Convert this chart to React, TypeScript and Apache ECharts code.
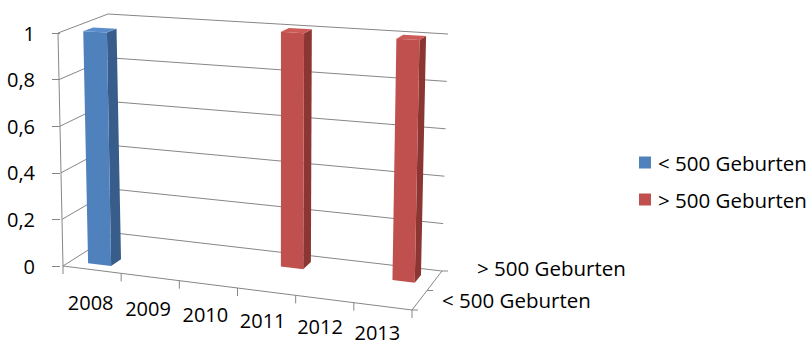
import { useEffect, useRef } from 'react';
import * as echarts from 'echarts';

const categories = ['2008', '2009', '2010', '2011', '2012', '2013'];
const seriesNames = ['< 500 Geburten', '> 500 Geburten'];
const below500 = [1, 0, 0, 0, 0, 0];
const above500 = [0, 0, 0, 1, 0, 1];
const valueTicks = [0, 0.2, 0.4, 0.6, 0.8, 1];

const FONT = '"Open Sans", sans-serif';
const GRID_COLOR = '#868686';
const BLUE = { front: '#4F81BD', top: '#5B8DCB', side: '#385D8A' };
const RED = { front: '#C0504D', top: '#CC5B58', side: '#8C3634' };

type Pt = [number, number];

// Oblique / slightly perspective 3D box projected from the cartesian grid.
function makeProj(api: any) {
  const n = categories.length;
  const o = api.coord([0, 0]);
  const e = api.coord([n, 1]);
  const L = o[0], B = o[1], R = e[0], T = e[1];
  const FBL: Pt = [L + 3, B], FTL: Pt = [L - 2, T];
  const FBR: Pt = [R, B + 44], FTR: Pt = [R + 4, T + 21];
  const BBL: Pt = [L + 55, B - 33], BTL: Pt = [L + 48, T - 19];
  const BBR: Pt = [R + 30, B + 5], BTR: Pt = [R + 36, T + 1];
  const lerp = (a: Pt, b: Pt, k: number): Pt => [a[0] + (b[0] - a[0]) * k, a[1] + (b[1] - a[1]) * k];
  return (u: number, v: number, w: number): Pt => {
    const p = api.coord([u, v]);
    const s = (p[0] - L) / (R - L);
    const t = (B - p[1]) / (B - T);
    const fb = lerp(FBL, FBR, s), ft = lerp(FTL, FTR, s);
    const bb = lerp(BBL, BBR, s), bt = lerp(BTL, BTR, s);
    return lerp(lerp(fb, ft, t), lerp(bb, bt, t), w);
  };
}

const lineEl = (a: Pt, b: Pt, color = GRID_COLOR) => ({
  type: 'line',
  shape: { x1: a[0], y1: a[1], x2: b[0], y2: b[1] },
  style: { stroke: color, lineWidth: 1 },
  silent: true,
});

const textEl = (x: number, y: number, text: string, align: string, size: number) => ({
  type: 'text',
  x,
  y,
  style: { text, fill: '#000', fontFamily: FONT, fontSize: size, align, verticalAlign: 'middle' },
  silent: true,
});

function barRender(k: number, colors: { front: string; top: string; side: string }) {
  return (params: any, api: any) => {
    const i = api.value(0);
    const val = api.value(1);
    if (!val) return null;
    const P = makeProj(api);
    const u0 = i + 0.3, u1 = i + 0.7;
    const w0 = 0.25 + 0.5 * k - 0.1, w1 = w0 + 0.2;
    return {
      type: 'group',
      children: [
        { type: 'polygon', shape: { points: [P(u1, 0, w0), P(u1, 0, w1), P(u1, val, w1), P(u1, val, w0)] }, style: { fill: colors.side } },
        { type: 'polygon', shape: { points: [P(u0, val, w0), P(u1, val, w0), P(u1, val, w1), P(u0, val, w1)] }, style: { fill: colors.top } },
        { type: 'polygon', shape: { points: [P(u0, 0, w0), P(u1, 0, w0), P(u1, val, w0), P(u0, val, w0)] }, style: { fill: colors.front } },
      ],
    };
  };
}

export default function App() {
  const ref = useRef<HTMLDivElement>(null);
  useEffect(() => {
    if (!ref.current) return;
    const chart = echarts.init(ref.current, undefined, { renderer: 'svg' });
    const n = categories.length;
    const option: any = {
      animation: false,
      grid: { left: 60, top: 33, width: 352, height: 233 },
      xAxis: { type: 'value', min: 0, max: n, show: false },
      yAxis: {
        type: 'value',
        min: valueTicks[0],
        max: valueTicks[valueTicks.length - 1],
        interval: valueTicks[1] - valueTicks[0],
        axisLine: { show: false },
        axisTick: { show: true, length: 8, lineStyle: { color: GRID_COLOR } },
        splitLine: { show: false },
        axisLabel: {
          margin: 25,
          color: '#000',
          fontFamily: FONT,
          fontSize: 20,
          formatter: (v: number) => String(Math.round(v * 10) / 10).replace('.', ','),
        },
      },
      legend: {
        data: seriesNames,
        orient: 'vertical',
        left: 634,
        top: 147,
        itemWidth: 12,
        itemHeight: 12,
        itemGap: 16,
        icon: 'rect',
        selectedMode: false,
        textStyle: { color: '#000', fontFamily: FONT, fontSize: 20.5, padding: [0, 0, 0, 2] },
      },
      series: [
        {
          type: 'custom',
          name: 'walls',
          z: 1,
          silent: true,
          data: valueTicks.map((v) => [0, v]),
          renderItem: (params: any, api: any) => {
            const P = makeProj(api);
            const v = api.value(1);
            return {
              type: 'group',
              children: [lineEl(P(0, v, 0), P(0, v, 1)), lineEl(P(0, v, 1), P(n, v, 1))],
            };
          },
        },
        {
          type: 'custom',
          name: 'floor',
          z: 1,
          silent: true,
          data: categories.map((c, i) => [i]),
          renderItem: (params: any, api: any) => {
            const P = makeProj(api);
            const i = api.value(0);
            const children: any[] = [];
            const tick = (u: number) => {
              const a = P(u, 0, 0);
              children.push(lineEl(a, [a[0], a[1] + 8]));
            };
            tick(i);
            if (i === n - 1) tick(n);
            if (i === 0) {
              children.push(lineEl(P(0, 0, 0), P(n, 0, 0)));
              children.push(lineEl(P(n, 0, 0), P(n, 0, 1)));
              children.push(lineEl(P(0, 0, 0), P(0, 1, 0)));
            }
            const s = (i + 0.5) / n;
            const c = P(i + 0.5, 0, 0);
            children.push(textEl(c[0] - 1 - 5 * s, c[1] + 33.5 - 8 * s, categories[params.dataIndex], 'center', 20));
            return { type: 'group', children };
          },
        },
        {
          type: 'custom',
          name: 'depth',
          z: 1,
          silent: true,
          data: seriesNames.map((s, k) => [k]),
          renderItem: (params: any, api: any) => {
            const P = makeProj(api);
            const k = api.value(0);
            const m = seriesNames.length;
            const children: any[] = [];
            const tick = (w: number) => {
              const a = P(n, 0, w);
              children.push(lineEl(a, [a[0] + 6, a[1]]));
            };
            tick(k / m);
            if (k === m - 1) tick(1);
            const w = (k + 0.5) / m;
            const c = P(n, 0, w);
            children.push(
              textEl(c[0] + 22.5 + 40 * (w - 0.25), c[1] - 25.5 * (w - 0.25), seriesNames[params.dataIndex], 'left', 20.5)
            );
            return { type: 'group', children };
          },
        },
        {
          type: 'custom',
          name: seriesNames[1],
          z: 2,
          itemStyle: { color: RED.front },
          data: above500.map((v, i) => [i, v]),
          renderItem: barRender(1, RED),
        },
        {
          type: 'custom',
          name: seriesNames[0],
          z: 3,
          itemStyle: { color: BLUE.front },
          data: below500.map((v, i) => [i, v]),
          renderItem: barRender(0, BLUE),
        },
      ],
    };
    chart.setOption(option);
    return () => chart.dispose();
  }, []);
  return <div ref={ref} style={{ position: 'absolute', left: 0, top: 0, width: 812, height: 347, background: '#fff' }} />;
}
